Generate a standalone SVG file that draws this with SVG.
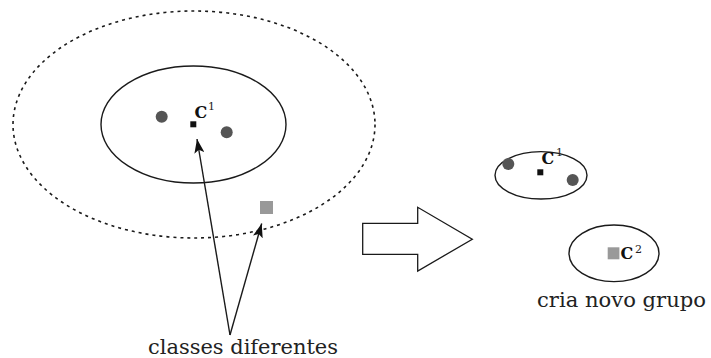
<svg xmlns="http://www.w3.org/2000/svg" width="711" height="358" viewBox="0 0 711 358">
<style>
.el{fill:none;stroke:#1a1a1a;stroke-width:1.4}
.dash{fill:none;stroke:#1a1a1a;stroke-width:1.6;stroke-dasharray:3 4}
.dot{fill:#555}
.ctr{fill:#111}
.gsq{fill:#999}
.conn{stroke:#1a1a1a;stroke-width:1.4;fill:none}
.serif{font-family:"DejaVu Serif","Liberation Serif",serif}
</style>
<defs>
<marker id="ah" viewBox="0 0 14 10" refX="14" refY="5" markerWidth="14" markerHeight="10" markerUnits="userSpaceOnUse" orient="auto">
<path d="M0,0 L14,5 L0,10 L3,5 Z" fill="#111"/>
</marker>
</defs>
<g id="outer-region">
<ellipse class="dash" cx="194" cy="124.5" rx="181" ry="113.5"/>
</g>
<g id="cluster1" class="serif">
<ellipse class="el" cx="193.5" cy="124.5" rx="92.5" ry="58.5"/>
<circle class="dot" cx="161.7" cy="116.7" r="6"/>
<circle class="dot" cx="226.7" cy="132.3" r="6"/>
<rect class="ctr" x="190.3" y="121.3" width="6" height="6"/>
<text x="194.5" y="117.5" font-size="16" font-weight="bold" fill="#111">C</text>
<text x="208" y="110" font-size="11" fill="#222">1</text>
</g>
<g id="outlier">
<rect class="gsq" x="260" y="201" width="13" height="13"/>
</g>
<g id="transform-arrow">
<path d="M362.7,223.3 L417.7,223.3 L417.7,207.3 L472.3,239.3 L417.7,271 L417.7,254.3 L362.7,254.3 Z" fill="#fff" stroke="#1a1a1a" stroke-width="1.3"/>
</g>
<g id="cluster1-new" class="serif">
<ellipse class="el" cx="541" cy="175.3" rx="46" ry="23.7"/>
<circle class="dot" cx="508.3" cy="164" r="6"/>
<circle class="dot" cx="572.7" cy="180" r="6"/>
<rect class="ctr" x="537.3" y="169.3" width="6" height="6"/>
<text x="541.5" y="163.5" font-size="16" font-weight="bold" fill="#111">C</text>
<text x="556" y="156" font-size="11" fill="#222">1</text>
</g>
<g id="cluster2-new" class="serif">
<ellipse class="el" cx="614" cy="253.3" rx="45" ry="28.3"/>
<rect class="gsq" x="607.7" y="247.3" width="11.7" height="12"/>
<text x="620.5" y="259.3" font-size="16" font-weight="bold" fill="#111">C</text>
<text x="635" y="252.5" font-size="11" fill="#222">2</text>
<text x="537" y="306.5" font-size="21" fill="#222" textLength="169" lengthAdjust="spacingAndGlyphs">cria novo grupo</text>
</g>
<g id="connectors">
<line class="conn" x1="230" y1="335" x2="197" y2="139" marker-end="url(#ah)"/>
<line class="conn" x1="230" y1="335" x2="261.7" y2="223.5" marker-end="url(#ah)"/>
</g>
<g id="label-classes" class="serif">
<text x="148" y="353.5" font-size="21" fill="#222" textLength="190" lengthAdjust="spacingAndGlyphs">classes diferentes</text>
</g>
</svg>
